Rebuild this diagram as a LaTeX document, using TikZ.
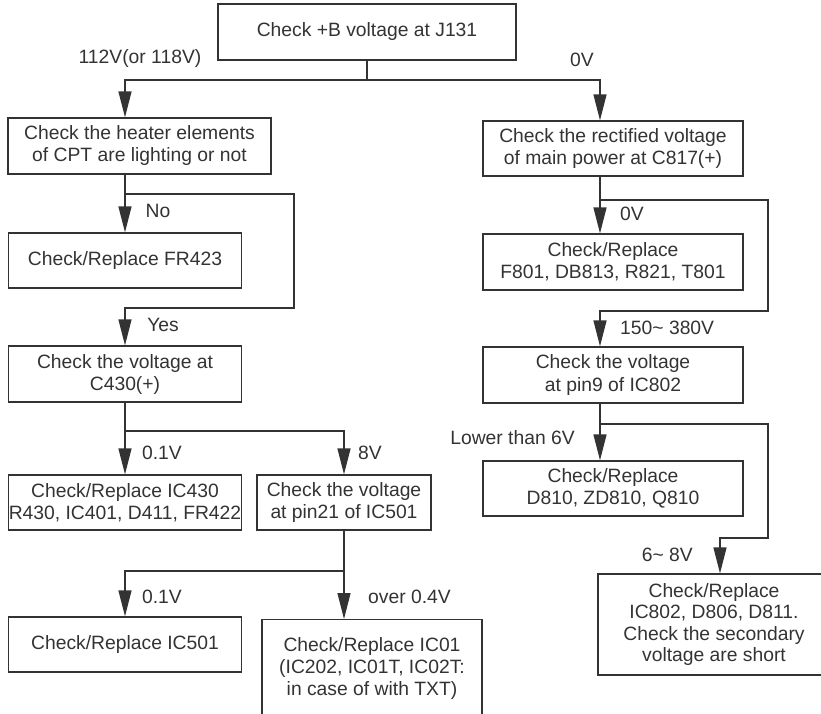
\documentclass[tikz,border=0pt]{standalone}
\usepackage{fontspec}
\setmainfont{Liberation Sans}
\usetikzlibrary{arrows.meta}
\definecolor{ink}{HTML}{333333}
\begin{document}
\begin{tikzpicture}[x=1pt,y=-1pt,
  box/.style={draw=ink, line width=1.3pt, inner sep=0pt, align=center, text=ink,
    font=\fontsize{19.3}{22}\selectfont, minimum height=56pt, minimum width=233pt},
  lbl/.style={text=ink, font=\fontsize{19.3}{22}\selectfont, inner sep=0pt},
  wire/.style={draw=ink, line width=1.3pt},
  arr/.style={wire, -{Triangle[width=13pt,length=26pt]}}]
\path[use as bounding box, clip] (0,0) rectangle (821,713);

% boxes
\node[box, minimum width=298pt] (top) at (367,32) {Check +B voltage at J131};
\node[box, minimum width=263pt] (heat) at (139.5,146) {Check the heater elements\\of CPT are lighting or not};
\node[box, minimum height=55pt] (fr) at (125,260.5) {Check/Replace FR423};
\node[box] (c430) at (125,374) {Check the voltage at\\C430(+)};
\node[box, minimum height=55pt] (ic430) at (125,502.5) {Check/Replace IC430\\R430, IC401, D411, FR422};
\node[box, minimum width=174pt, minimum height=55pt] (pin21) at (344,502.5) {Check the voltage\\at pin21 of IC501};
\node[box, minimum height=55pt] (ic501) at (125,644.5) {Check/Replace IC501};
\node[box, minimum width=220pt, minimum height=120pt, anchor=north] (ic01) at (372,619) {};
\node[box, draw=none, minimum height=0pt, minimum width=0pt] (ic01t) at (372,668) {Check/Replace IC01\\(IC202, IC01T, IC02T:\\in case of with TXT)};

\node[box, minimum width=260pt, minimum height=55pt] (rect) at (613,148.5) {Check the rectified voltage\\of main power at C817(+)};
\node[box, minimum width=260pt] (f801) at (613,262) {Check/Replace\\F801, DB813, R821, T801};
\node[box, minimum width=260pt] (pin9) at (613,375) {Check the voltage\\at pin9 of IC802};
\node[box, minimum width=260pt, minimum height=55pt] (d810) at (613,488.5) {Check/Replace\\D810, ZD810, Q810};
\node[box, minimum width=232pt, minimum height=101pt, font=\fontsize{19.3}{21.5}\selectfont] (last) at (714,624.5) {Check/Replace\\IC802, D806, D811.\\Check the secondary\\voltage are short};

% connector coordinates
\coordinate (j1) at (367,80);
\coordinate (a1) at (125,194);
\coordinate (a2) at (294,194);
\coordinate (a3) at (294,308);
\coordinate (a4) at (125,308);
\coordinate (c1) at (125,431);
\coordinate (p1) at (344,571);
\coordinate (r1) at (600,200);
\coordinate (r2) at (768,200);
\coordinate (r3) at (768,311);
\coordinate (r4) at (600,311);
\coordinate (q1) at (600,424);
\coordinate (q2) at (768,424);
\coordinate (q3) at (768,538);
\coordinate (q4) at (720,538);

% connectors
\draw[wire] (top.south) -- (j1);
\draw[arr] (j1) -| ([xshift=-14.5pt]heat.north);
\draw[arr] (j1) -| ([xshift=-13pt]rect.north);

\draw[arr] ([xshift=-14.5pt]heat.south) -- (fr.north);
\draw[arr] (a1) -- (a2) -- (a3) -- (a4) -- (c430.north);

\draw[arr] (c430.south) -- (ic430.north);
\draw[arr] (c1) -| (pin21.north);

\draw[arr] (pin21.south) -- ([xshift=-28pt]ic01.north);
\draw[arr] (p1) -| (ic501.north);

\draw[arr] ([xshift=-13pt]rect.south) -- ([xshift=-13pt]f801.north);
\draw[arr] (r1) -- (r2) -- (r3) -- (r4) -- ([xshift=-13pt]pin9.north);

\draw[arr] ([xshift=-13pt]pin9.south) -- ([xshift=-13pt]d810.north);
\draw[arr] (q1) -- (q2) -- (q3) -- (q4) -- ([xshift=6pt]last.north);

% labels
\node[lbl] (l112) at (140,59) {112V(or 118V)};
\node[lbl] (l0v) at (582,60) {0V};
\node[lbl] (lno) at (158,211) {No};
\node[lbl] (lyes) at (163,325) {Yes};
\node[lbl] (l01a) at (162,453) {0.1V};
\node[lbl] (l8v) at (370,453) {8V};
\node[lbl] (l01b) at (162,597) {0.1V};
\node[lbl, anchor=west] (lover) at (368,597) {over 0.4V};
\node[lbl] (l0vr) at (632,214) {0V};
\node[lbl, anchor=west] (l150) at (620,328) {150\textasciitilde\ 380V};
\node[lbl, anchor=east] (llow) at (575,438) {Lower than 6V};
\node[lbl, anchor=east] (l68) at (693,555) {6\textasciitilde\ 8V};
\end{tikzpicture}
\end{document}
